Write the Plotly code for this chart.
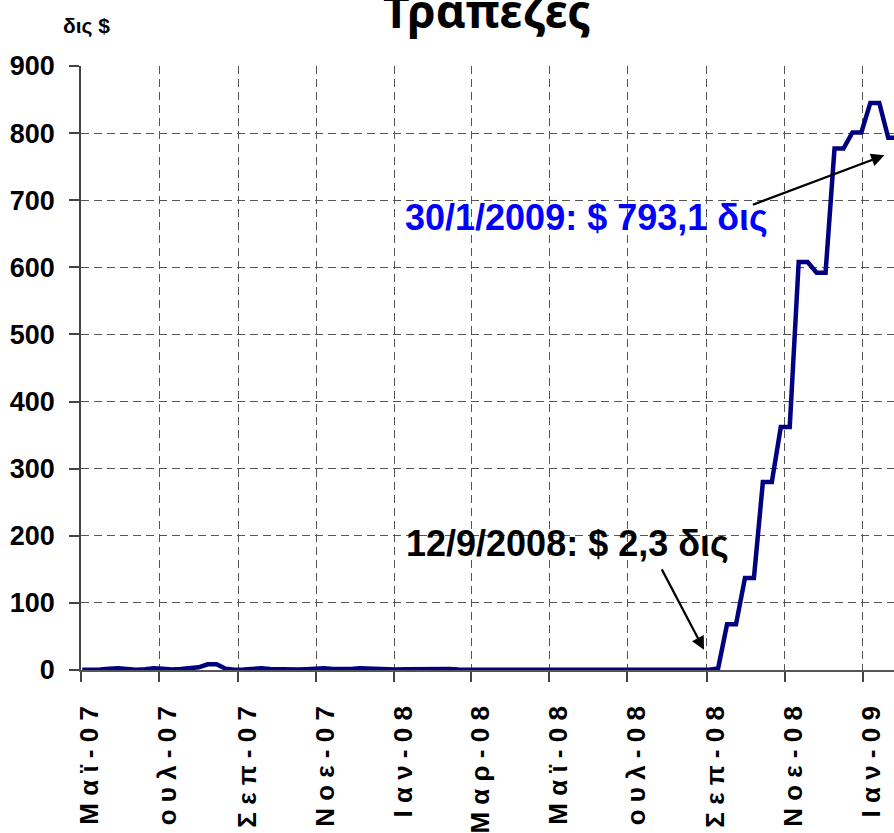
import pandas as pd
import plotly.graph_objects as go

# Weekly (Wednesday) values, billions of $
dates = pd.date_range("2007-05-02", periods=92, freq="7D")

values_2007_2008 = [
    0.5, 0.3, 0.8, 1.8, 2.5, 1.5, 0.5, 1.2, 2.5, 2.0,
    0.8, 1.5, 2.5, 4.0, 8.5, 8.5, 2.0, 0.5, 0.8, 1.5,
    2.5, 1.5, 0.8, 0.5, 0.8, 1.2, 2.0, 2.5, 1.5, 0.8,
    1.5, 2.5, 1.8, 0.8, 0.5, 0.8, 1.2, 1.5, 2.0, 2.5,
    2.5, 1.5, 0.8, 0.5, 0.4, 0.4, 0.4, 0.4, 0.4, 0.4,
    0.4, 0.4, 0.4, 0.4, 0.4, 0.4, 0.4, 0.4, 0.4, 0.4,
    0.4, 0.4, 0.4, 0.4, 0.4, 0.4, 0.4, 0.4, 0.4, 0.4,
    0.4,
]
values_crisis = [
    2.3, 68, 68, 137, 137, 280, 280, 362, 362, 608,
    608, 592, 592, 777, 777, 801, 801, 845, 845, 793.1,
    793.1,
]
values = values_2007_2008 + values_crisis

tick_dates = ["2007-05-01", "2007-07-01", "2007-09-01", "2007-11-01",
              "2008-01-01", "2008-03-01", "2008-05-01", "2008-07-01",
              "2008-09-01", "2008-11-01", "2009-01-01"]
tick_labels = ["Μ α ϊ - 0 7", "Ι ο υ λ - 0 7", "Σ ε π - 0 7", "Ν ο ε - 0 7",
               "Ι α ν - 0 8", "Μ α ρ - 0 8", "Μ α ϊ - 0 8", "Ι ο υ λ - 0 8",
               "Σ ε π - 0 8", "Ν ο ε - 0 8", "Ι α ν - 0 9"]
y_ticks = [0, 100, 200, 300, 400, 500, 600, 700, 800, 900]

fig = go.Figure()
fig.add_trace(go.Scatter(
    x=dates, y=values, mode="lines",
    line=dict(color="#000080", width=4.5),
    showlegend=False, hoverinfo="skip",
))

sans = "Liberation Sans, Arial, sans-serif"

fig.update_layout(
    width=894, height=833,
    margin=dict(l=81, r=0, t=66, b=163),
    paper_bgcolor="white", plot_bgcolor="white",
    xaxis=dict(
        type="date",
        range=["2007-05-01", "2009-01-25 12:00"],
        tickvals=tick_dates, ticktext=tick_labels,
        tickangle=-90,
        tickfont=dict(family=sans, size=26, color="black", weight="bold"),
        ticks="outside", ticklen=10, tickcolor="#444", tickwidth=1.5,
        showline=True, linecolor="#555", linewidth=1.5,
        showgrid=True, gridcolor="#555", gridwidth=1, griddash="8px,5px",
        zeroline=False,
        ticklabelstandoff=14,
        ticklabelshift=9,
        automargin=False,
    ),
    yaxis=dict(
        range=[0, 900],
        tickvals=y_ticks,
        tickfont=dict(family=sans, size=27, color="black", weight="bold"),
        ticks="outside", ticklen=10, tickcolor="#444", tickwidth=1.5,
        showline=True, linecolor="#444", linewidth=1.5,
        showgrid=True, gridcolor="#555", gridwidth=1, griddash="8px,5px",
        zeroline=False,
        ticklabelstandoff=9,
        automargin=False,
    ),
)

# Title
fig.add_annotation(
    text="<b>Τραπεζες</b>", xref="paper", yref="paper",
    x=0.4994, y=1, xanchor="center", yanchor="bottom", yshift=23,
    showarrow=False,
    font=dict(family="Noto Sans, sans-serif", size=46, color="black"),
)
# Units label
fig.add_annotation(
    text="<b>δις $</b>", xref="paper", yref="paper",
    x=-0.025, y=1, xanchor="left", yanchor="bottom", yshift=26,
    showarrow=False,
    font=dict(family=sans, size=21, color="black"),
)

# Blue annotation + arrow
fig.add_annotation(
    text="<b>30/1/2009: $ 793,1 δις</b>", xref="x", yref="y",
    x="2008-05-30", y=674, xanchor="center", yanchor="middle",
    showarrow=False,
    font=dict(family=sans, size=36, color="#0000FF"),
)
fig.add_annotation(
    x="2009-01-18", y=767, xref="x", yref="y",
    ax=-133, ay=50,
    text="", showarrow=True, arrowhead=2, arrowsize=1.2, arrowwidth=2.2,
    arrowcolor="black",
)

# Black annotation + arrow
fig.add_annotation(
    text="<b>12/9/2008: $ 2,3 δις</b>", xref="x", yref="y",
    x="2008-05-15", y=189, xanchor="center", yanchor="middle",
    showarrow=False,
    font=dict(family=sans, size=36, color="black"),
)
fig.add_annotation(
    x="2008-08-30", y=30, xref="x", yref="y",
    ax=-43, ay=-82,
    text="", showarrow=True, arrowhead=2, arrowsize=1.2, arrowwidth=2.2,
    arrowcolor="black",
)

fig.write_html("out.html", config={"displayModeBar": False},
               post_script="document.body.style.margin='0';")
